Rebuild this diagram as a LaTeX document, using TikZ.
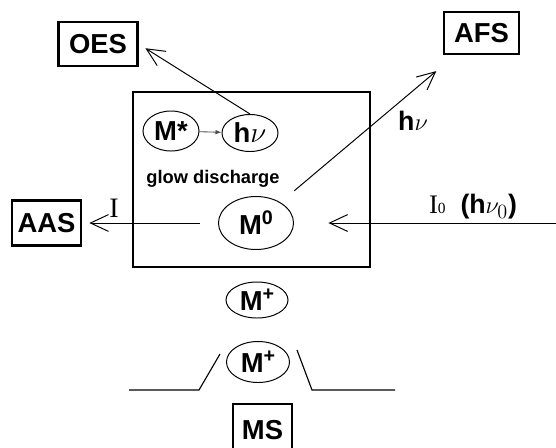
\documentclass[tikz,border=0pt]{standalone}
\usepackage{fontspec}
\setmainfont{Liberation Serif}
\setsansfont{Liberation Sans}
\usetikzlibrary{arrows.meta,shapes.geometric}

\newcommand{\upidx}[1]{\raisebox{0.7ex}{\fontsize{14}{14}\selectfont #1}}

\begin{document}
\begin{tikzpicture}[
    x=0.025cm, y=-0.025cm,
    instr/.style={
        rectangle, draw, line width=1.6pt,
        inner sep=0pt, font=\fontsize{19.5}{21}\selectfont\sffamily\bfseries
    },
    species/.style={
        ellipse, draw, line width=0.7pt, inner sep=0pt,
        font=\fontsize{19.5}{21}\selectfont\sffamily\bfseries
    },
    lbl/.style={font=\fontsize{19}{21}\selectfont\sffamily\bfseries},
    rmlbl/.style={font=\fontsize{20}{21}\selectfont\rmfamily},
    arr/.style={-{Straight Barb[length=4.5mm,width=4.2mm]}, line width=0.7pt}
]
\useasboundingbox (0,0) rectangle (556,447);
% glow discharge cell
\node[draw, line width=1.8pt, minimum width=5.925cm, minimum height=4.375cm]
  (cell) at (251.5,179.5) {};
\node[lbl, font=\fontsize{13}{14}\selectfont\sffamily\bfseries] (glow) at (213,179) {glow discharge};
\node[species, minimum width=1.4cm, minimum height=1.0cm] (mstar) at (171,131) {M*};
\node[species, minimum width=1.4cm, minimum height=0.925cm] (hnu) at (250,133) {h$\nu$};
\node[species, minimum width=1.875cm, minimum height=1.325cm] (m0) at (256,223) {M\upidx{0}};
\node[species, minimum width=1.55cm, minimum height=0.9cm] (mplusa) at (257,300) {M\upidx{+}};
\node[species, minimum width=1.575cm, minimum height=1.025cm] (mplusb) at (258,362) {M\upidx{+}};
% techniques
\node[instr, minimum width=1.975cm, minimum height=1.1cm] (oes) at (98,44) {OES};
\node[instr, minimum width=1.875cm, minimum height=1.05cm] (afs) at (481.5,33) {AFS};
\node[instr, minimum width=1.725cm, minimum height=1.125cm] (aas) at (46.5,223) {AAS};
\node[instr, minimum width=1.475cm, minimum height=1.3cm] (ms) at (262.5,430) {MS};
\coordinate (lamp) at (556,223);
% labels
\node[rmlbl] (ilbl) at (114,208) {I};
\node[lbl] (hnulbl) at (413,121) {h$\nu$};
\node[lbl] (i0lbl) at (473,207) {{\rmfamily\mdseries I{\fontsize{11}{11}\selectfont 0}}\ \ (h$\nu_0$)};
% connectors
\draw[-{Latex[length=1.5mm]}, line width=0.6pt, black!70] (mstar) -- (hnu);
\draw[arr, shorten >=2mm] (hnu.north) -- (oes.east);
\draw[arr, shorten <=4.5mm, shorten >=6.2mm] (m0) -- (afs);
\draw[arr, shorten <=4.5mm, shorten >=1.8mm] (m0.west) -- (aas.east);
\draw[arr, shorten >=8.6mm] (lamp) -- (m0.east);
% ion lens
\draw[line width=0.8pt] (129,390) -- (199,390) -- (220,354);
\draw[line width=0.8pt] (297,350) -- (312,390) -- (395,390);
\end{tikzpicture}
\end{document}
